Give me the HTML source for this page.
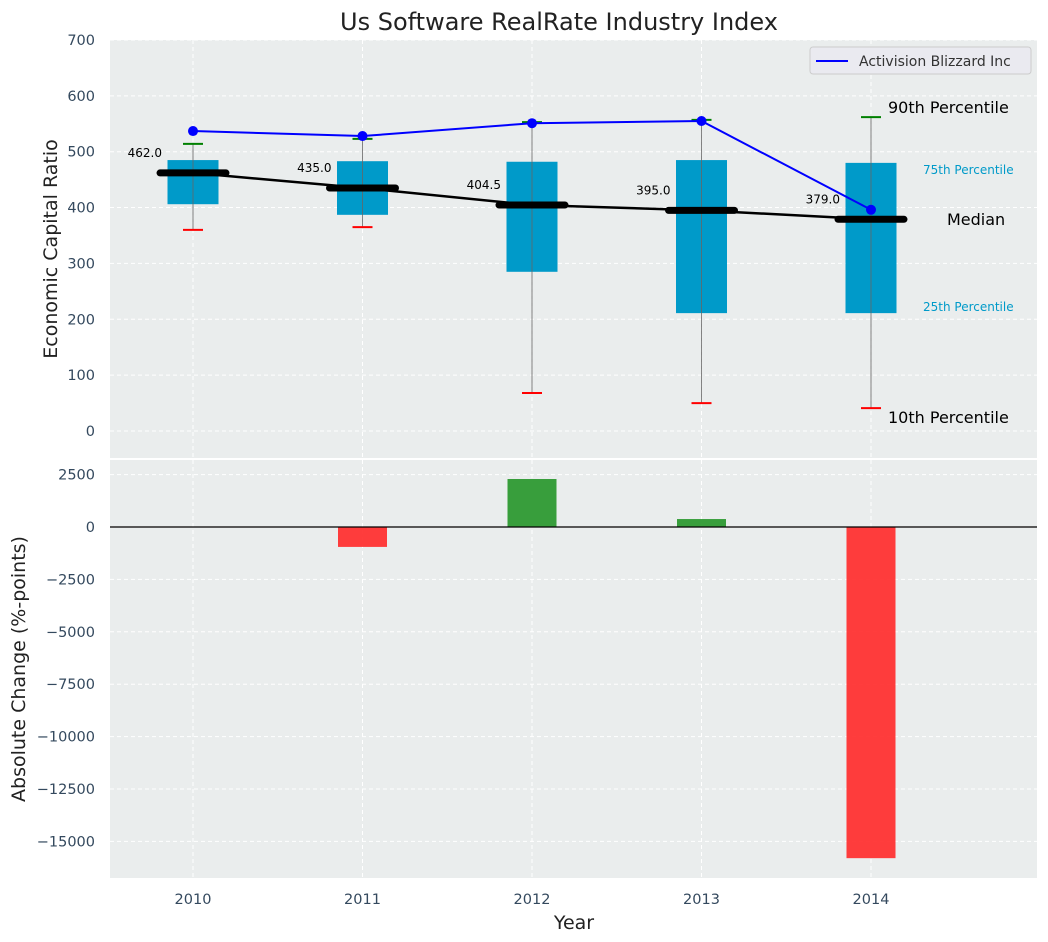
<!DOCTYPE html>
<html><head><meta charset="utf-8"><style>
body{margin:0;background:#fff;}
svg{display:block;font-family:"DejaVu Sans","Liberation Sans",sans-serif;}
</style></head><body>
<svg id="chart" width="1048" height="942" xmlns="http://www.w3.org/2000/svg">
<text x="559" y="30" font-size="24" text-anchor="middle" fill="#222">Us Software RealRate Industry Index</text>
<g id="topg"></g><g id="botg"></g>
</svg>
<script>
const years = ['2010','2011','2012','2013','2014'];
const p10 = [360, 365, 68, 50, 41];
const p25 = [406, 387, 285, 211, 211];
const median = [462.0, 435.0, 404.5, 395.0, 379.0];
const p75 = [485, 483, 482, 485, 480];
const p90 = [514, 523, 553, 557, 562];
const company = [537, 528, 551, 555, 396];
const change = [0, -950, 2290, 380, -15800];
const topTicks = [0,100,200,300,400,500,600,700];
const botTicks = [2500,0,-2500,-5000,-7500,-10000,-12500,-15000];

const NS='http://www.w3.org/2000/svg';
function mk(parent,tag,attrs,text){const e=document.createElementNS(NS,tag);for(const k in attrs)e.setAttribute(k,attrs[k]);if(text!==undefined)e.textContent=text;parent.appendChild(e);return e;}
const L=110,R=1037;
const X=i=>193+i*169.5;
const Yt=v=>431-v*0.5586;
const Yb=v=>527-v*0.02096;
const gTop=document.getElementById('topg'), gBot=document.getElementById('botg');
let e;

e=mk(gTop,'rect',{x:L,y:40,width:R-L,height:418,fill:'#eaeded'});


e=mk(gBot,'rect',{x:L,y:460,width:R-L,height:418,fill:'#eaeded'});



topTicks.forEach(t=>{
  e=mk(gTop,'line',{x1:L,x2:R,y1:Yt(t),y2:Yt(t),stroke:'#fff','stroke-dasharray':'4,3','stroke-width':1});
  
  
  e=mk(gTop,'text',{x:95,y:Yt(t)+5,'font-size':14.5,'text-anchor':'end',fill:'#34495e'},t);
  
  
});
botTicks.forEach(t=>{
  e=mk(gBot,'line',{x1:L,x2:R,y1:Yb(t),y2:Yb(t),stroke:'#fff','stroke-dasharray':'4,3','stroke-width':1});
  
  
  e=mk(gBot,'text',{x:95,y:Yb(t)+5,'font-size':14.5,'text-anchor':'end',fill:'#34495e'},String(t).replace('-','\u2212'));
  
  
});
years.forEach((y,i)=>{
  e=mk(gTop,'line',{x1:X(i),x2:X(i),y1:40,y2:458,stroke:'#fff','stroke-dasharray':'4,3'});
  
  
  e=mk(gBot,'line',{x1:X(i),x2:X(i),y1:460,y2:878,stroke:'#fff','stroke-dasharray':'4,3'});
  
  
  e=mk(gBot,'text',{x:X(i),y:904,'font-size':14.5,'text-anchor':'middle',fill:'#34495e'},y);
  
  
});

years.forEach((y,i)=>{
  e=mk(gTop,'rect',{x:X(i)-25.5,y:Yt(p75[i]),width:51,height:Yt(p25[i])-Yt(p75[i]),fill:'#009ac9'});
  
  
  e=mk(gTop,'line',{x1:X(i),x2:X(i),y1:Yt(p90[i]),y2:Yt(p10[i]),stroke:'#666','stroke-width':1,opacity:0.8});
  
  
  e=mk(gTop,'line',{x1:X(i)-10,x2:X(i)+10,y1:Yt(p90[i]),y2:Yt(p90[i]),stroke:'green','stroke-width':2});
  
  
  e=mk(gTop,'line',{x1:X(i)-10,x2:X(i)+10,y1:Yt(p10[i]),y2:Yt(p10[i]),stroke:'red','stroke-width':2});
  
  
});
e=mk(gTop,'polyline',{points:median.map((m,i)=>X(i)+','+Yt(m)).join(' '),fill:'none',stroke:'#000','stroke-width':2.5});


years.forEach((y,i)=>{
  e=mk(gTop,'line',{x1:X(i)-33,x2:X(i)+33,y1:Yt(median[i]),y2:Yt(median[i]),stroke:'#000','stroke-width':7,'stroke-linecap':'round'});
  
  
  e=mk(gTop,'text',{x:X(i)-31,y:Yt(median[i])-16,'font-size':12,'text-anchor':'end',fill:'#000'},median[i].toFixed(1));
  
  
});
e=mk(gTop,'polyline',{points:company.map((m,i)=>X(i)+','+Yt(m)).join(' '),fill:'none',stroke:'#0000ff','stroke-width':2});


years.forEach((y,i)=>{
  e=mk(gTop,'circle',{cx:X(i),cy:Yt(company[i]),r:5,fill:'#0000ff'});
  
  
});
const ann=[['90th Percentile',888,113,16,'#000'],['75th Percentile',923,174,12,'#009ac9'],['Median',947,225,16,'#000'],['25th Percentile',923,311,12,'#009ac9'],['10th Percentile',888,423,16,'#000']];
ann.forEach(a=>{
  e=mk(gTop,'text',{x:a[1],y:a[2],'font-size':a[3],fill:a[4]},a[0]);
  
  
});
const lg=mk(gTop,'g',{});


mk(lg,'rect',{x:810,y:47,width:221,height:27,rx:3,fill:'#eaeaf0',stroke:'#ccc'});
mk(lg,'line',{x1:816,x2:848,y1:61,y2:61,stroke:'#0000ff','stroke-width':2});
e=mk(lg,'text',{x:859,y:66,'font-size':14,fill:'#333'},'Activision Blizzard Inc');



years.forEach((y,i)=>{
  const v=change[i]; if(!v) return;
  const y0=Math.min(Yb(0),Yb(v)), h=Math.abs(Yb(v)-Yb(0));
  e=mk(gBot,'rect',{x:X(i)-24.5,y:y0,width:49,height:h,fill:v>0?'#2e9a33':'#ff3333',opacity:0.95});
  
  
});
e=mk(gBot,'line',{x1:L,x2:R,y1:Yb(0),y2:Yb(0),stroke:'#000','stroke-width':1.2});



e=mk(gTop,'text',{x:57,y:249,'font-size':19,'text-anchor':'middle',fill:'#222',transform:'rotate(-90 57 249)'},'Economic Capital Ratio');


e=mk(gBot,'text',{x:25,y:669,'font-size':19,'text-anchor':'middle',fill:'#222',transform:'rotate(-90 25 669)'},'Absolute Change (%-points)');


e=mk(gBot,'text',{x:574,y:929,'font-size':19,'text-anchor':'middle',fill:'#222'},'Year');


</script>
</body></html>
